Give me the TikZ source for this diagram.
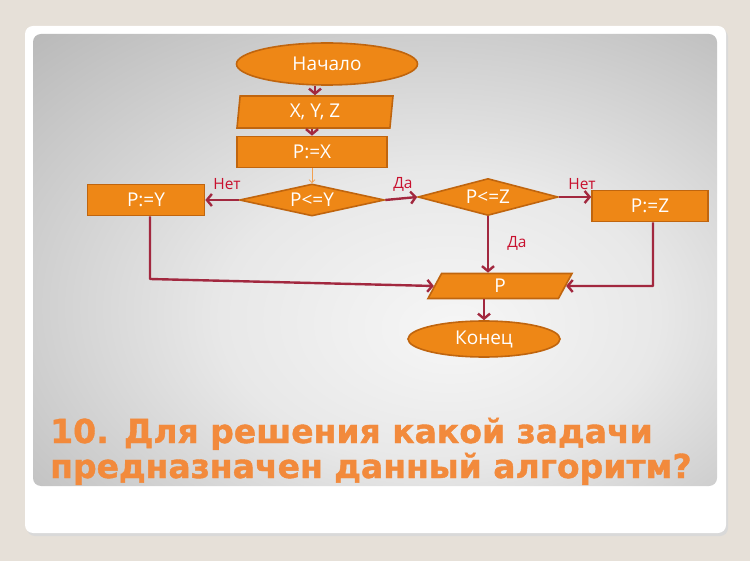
\documentclass[tikz,border=0pt]{standalone}
\usepackage{fontspec}
\setmainfont{Open Sans}
\newfontfamily\titlefont{DejaVu Sans}[BoldFeatures={FakeBold=1.2}]
\usetikzlibrary{shapes.geometric,arrows.meta}
\definecolor{bgout}{HTML}{E6E0D8}
\definecolor{nodefill}{HTML}{EE8716}
\definecolor{nodeline}{HTML}{C0650E}
\definecolor{arrcol}{HTML}{A2283F}
\definecolor{lblred}{HTML}{C8102E}
\definecolor{titleor}{HTML}{F28A3C}
\definecolor{thinor}{HTML}{F2A050}
\definecolor{pc0}{HTML}{F6F6F6}
\definecolor{pc1}{HTML}{E8E8E8}
\definecolor{pc2}{HTML}{A6A6A6}
\definecolor{pc3}{HTML}{9E9E9E}
\pgfdeclareradialshading{panelshade}{\pgfpoint{6bp}{-8bp}}{color(0bp)=(pc0); color(16bp)=(pc1); color(50bp)=(pc2); color(75bp)=(pc3)}
\tikzset{
  box/.style={draw=nodeline, line width=1.6pt, fill=nodefill, text=white,
    font=\fontsize{19}{22}\selectfont, inner sep=0pt},
  term/.style={box, ellipse},
  proc/.style={box, rectangle},
  io/.style={box, trapezium, trapezium stretches body},
  cond/.style={box, diamond, aspect=4.6, inner sep=-2pt},
  arr/.style={draw=arrcol, line width=2.4pt, line join=round,
    -{Straight Barb[length=5pt,width=12pt]}},
  thinarr/.style={draw=thinor, line width=0.8pt, -{Straight Barb[length=3pt,width=6pt]}},
  lbl/.style={text=lblred, font=\fontsize{15.5}{18}\selectfont, inner sep=0pt},
  ttl/.style={anchor=base west, inner sep=0pt, text=titleor,
    font=\titlefont\bfseries\fontsize{33}{36}\selectfont}
}
\begin{document}
\begin{tikzpicture}[x=1pt,y=-1pt]
\fill[bgout] (0,0) rectangle (750,561);
\useasboundingbox (0,0) rectangle (750,561);
\fill[black!15, rounded corners=8] (27,29) rectangle (728,536);
\fill[white, rounded corners=8] (25,26) rectangle (726,533);
\shade[shading=panelshade, rounded corners=8] (33,34) rectangle (717,486);

\node[term, minimum width=181, minimum height=42] (start) at (327,64) {Начало};
\node[io, trapezium left angle=79, trapezium right angle=101, minimum width=156, minimum height=32] (xyz) at (315,112) {X, Y, Z};
\node[proc, minimum width=150, minimum height=31] (px) at (312,152) {P:=X};
\node[cond, minimum width=145, minimum height=32] (c1) at (312,200) {P<=Y};
\node[proc, minimum width=117, minimum height=31] (py) at (146,200) {P:=Y};
\node[cond, minimum width=140, minimum height=37] (c2) at (488,197) {P<=Z};
\node[proc, minimum width=116, minimum height=31] (pz) at (650,206) {P:=Z};
\node[io, trapezium left angle=45, trapezium right angle=135, minimum width=144, minimum height=25] (out) at (500,286) {P};
\node[term, minimum width=152, minimum height=36] (end) at (484,339) {Конец};

\coordinate (k1) at (150,279);
\coordinate (k2) at (653,286);

\draw[arr] (xyz.north |- start.south) -- (xyz.north);
\draw[arr] (xyz.south -| px.north) -- (px.north);
\draw[thinarr] (px.south) -- (c1.north);
\draw[arr] (c1.west) -- (py.east);
\draw[arr] (c1.east) -- (c2.west);
\draw[arr] (c2.east) -- (c2.east -| pz.west);
\draw[arr] (c2.south) -- (c2.south |- out.north);
\draw[arr] (k1 |- py.south) -- (k1) -- (out.west);
\draw[arr] (k2 |- pz.south) -- (k2) -- (out.east);
\draw[arr] (end.north |- out.south) -- (end.north);

\node[lbl] (n1) at (227,184) {Нет};
\node[lbl] (d1) at (403,184) {Да};
\node[lbl] (n2) at (582,184) {Нет};
\node[lbl] (d2) at (517,243) {Да};

\node[ttl] (t1) at (50,443) {10. Для решения какой задачи};
\node[ttl] (t2) at (50,478) {предназначен данный алгоритм?};
\end{tikzpicture}
\end{document}
